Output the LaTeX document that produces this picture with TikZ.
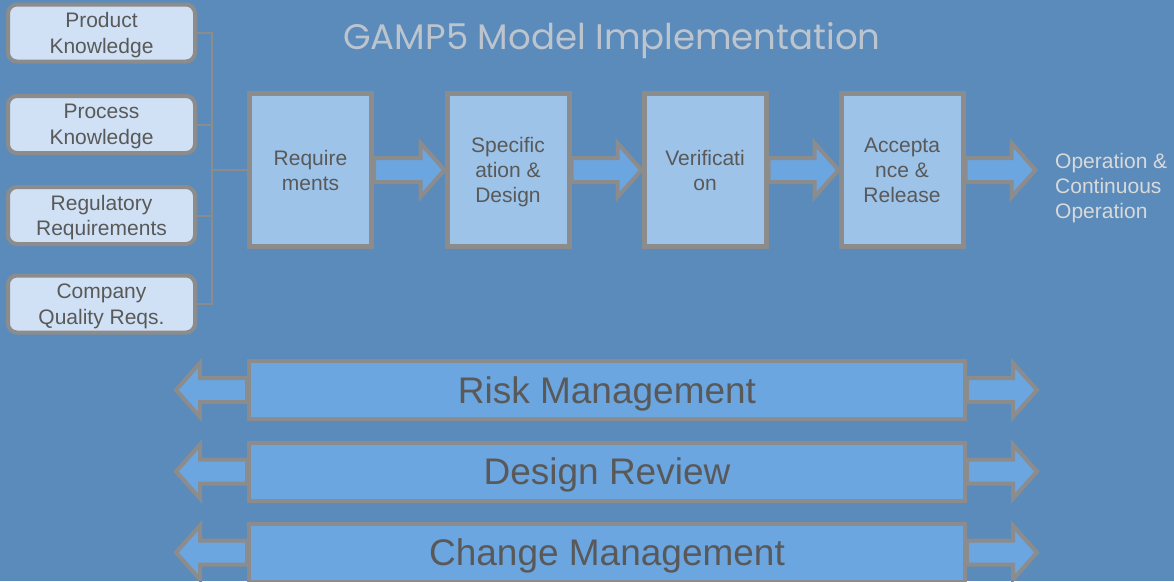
\documentclass[tikz,border=0pt]{standalone}
\usepackage{fontspec}
\setmainfont{Liberation Sans}
\newfontfamily\titlefont{Poppins}
\usepackage{tikz}
\usepackage{xcolor}
\usetikzlibrary{calc}

\definecolor{bgblue}{RGB}{91,139,187}
\definecolor{edgegray}{RGB}{140,140,140}
\definecolor{inputfill}{RGB}{208,225,245}
\definecolor{stagefill}{RGB}{157,195,233}
\definecolor{bandfill}{RGB}{108,166,224}
\definecolor{textgray}{RGB}{89,89,89}
\definecolor{opgray}{RGB}{217,217,217}
\definecolor{titlegray}{RGB}{188,196,206}

\tikzset{
    inbox/.style={draw=edgegray, line width=4pt, fill=inputfill, rounded corners=9pt,
        minimum width=187pt, minimum height=57pt, inner sep=0pt, align=center,
        text depth=0pt, text=textgray, font=\fontsize{21}{25.5}\selectfont},
    stagebox/.style={draw=edgegray, line width=5pt, fill=stagefill,
        minimum width=122pt, minimum height=153pt, inner sep=0pt, align=center,
        text depth=0pt, text=textgray, font=\fontsize{21}{25}\selectfont},
    bandbox/.style={draw=edgegray, line width=4pt, fill=bandfill,
        minimum width=716pt, minimum height=58pt, inner sep=0pt,
        text depth=0pt, text=textgray, font=\fontsize{37}{44}\selectfont},
    arrowbody/.style={draw=edgegray, line width=4pt, fill=bandfill, line join=miter},
    link/.style={draw=edgegray, line width=2pt}
}

% block arrow from #1 to #2
\newcommand{\fatarrow}[2]{%
    \coordinate (fa-b) at ($(#2)!24pt!(#1)$);
    \draw[arrowbody] ($(#1)!12pt!90:(#2)$) -- ($(fa-b)!12pt!-90:(#1)$)
        -- ($(fa-b)!27pt!-90:(#1)$) -- (#2) -- ($(fa-b)!27pt!90:(#1)$)
        -- ($(fa-b)!12pt!90:(#1)$) -- ($(#1)!12pt!-90:(#2)$) -- cycle;}

\begin{document}
\begin{tikzpicture}[x=1pt,y=-1pt]
    \fill[bgblue] (0,0) rectangle (1174,581);
    \useasboundingbox (0,0) rectangle (1174,581);

    \node[text=titlegray, font=\titlefont\fontsize{35.5}{42}\selectfont] (title) at (612,41) {GAMP5 Model Implementation};

    % inputs
    \node[inbox] (prod) at (101.5,33) {Product\\Knowledge};
    \node[inbox] (proc) at (101.5,124.5) {Process\\Knowledge};
    \node[inbox] (regu) at (101.5,215.5) {Regulatory\\Requirements};
    \node[inbox] (qual) at (101.5,304) {Company\\Quality Reqs.};

    % stages
    \node[stagebox] (req) at (310.5,170) {Require\\ments};
    \node[stagebox] (spec) at (508,170) {Specific\\ation \&\\Design};
    \node[stagebox] (veri) at (705,170) {Verificati\\on};
    \node[stagebox] (acc) at (902,170) {Accepta\\nce \&\\Release};
    \node[text=opgray, align=left, anchor=west, inner sep=0pt, font=\fontsize{21}{25}\selectfont] (oper) at (1055,188) {Operation \&\\Continuous\\Operation};

    \coordinate (hub) at (212,170);
    \draw[link] (prod.east) -| (hub);
    \draw[link] (qual.east) -| (hub);
    \draw[link] (proc.east) -- (proc.east -| hub);
    \draw[link] (regu.east) -- (regu.east -| hub);
    \draw[link] (hub) -- (req.west);

    \fatarrow{req.east}{spec.west}
    \fatarrow{spec.east}{veri.west}
    \fatarrow{veri.east}{acc.west}
    \coordinate (out) at ($(acc.east)+(70,0)$);
    \fatarrow{acc.east}{out}

    % bands
    \node[bandbox] (risk) at (607,390) {Risk Management};
    \node[bandbox] (review) at (607,471.5) {Design Review};
    \node[bandbox] (change) at (607,552.5) {Change Management};
    \foreach \b in {risk,review,change}{
        \coordinate (\b-l) at ($(\b.west)+(-71,0)$);
        \coordinate (\b-r) at ($(\b.east)+(70,0)$);
        \fatarrow{\b.west}{\b-l}
        \fatarrow{\b.east}{\b-r}
    }
\end{tikzpicture}
\end{document}
